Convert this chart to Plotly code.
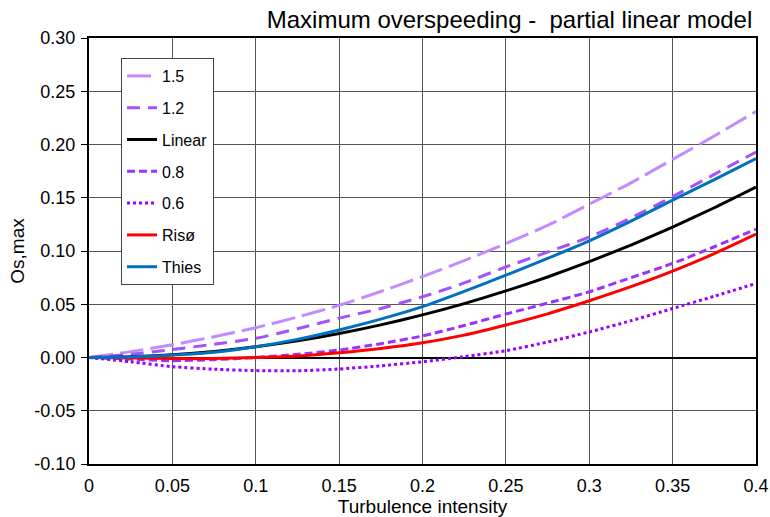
import plotly.graph_objects as go

ti = [0, 0.025, 0.05, 0.075, 0.1, 0.125, 0.15, 0.175, 0.2, 0.225, 0.25, 0.275, 0.3, 0.325, 0.35, 0.375, 0.4]

os_15 = [0, 0.0055, 0.012, 0.0195, 0.028, 0.038, 0.049, 0.062, 0.076, 0.091, 0.107, 0.124, 0.144, 0.164, 0.186, 0.208, 0.231]
os_12 = [0, 0.003, 0.0075, 0.0125, 0.018, 0.027, 0.037, 0.046, 0.057, 0.070, 0.085, 0.099, 0.113, 0.131, 0.151, 0.172, 0.193]
os_lin = [0, 0.0006, 0.0025, 0.0056, 0.01, 0.0156, 0.0225, 0.0306, 0.04, 0.0506, 0.0625, 0.0756, 0.09, 0.1056, 0.1225, 0.1406, 0.16]
os_08 = [0, -0.0015, -0.003, -0.002, 0.0, 0.003, 0.007, 0.013, 0.0202, 0.030, 0.0408, 0.051, 0.0617, 0.075, 0.0883, 0.104, 0.1205]
os_06 = [0, -0.004, -0.0086, -0.011, -0.0123, -0.0125, -0.0108, -0.0078, -0.004, 0.0008, 0.0064, 0.0145, 0.024, 0.0345, 0.046, 0.0575, 0.0695]
os_riso = [0, -0.0005, -0.001, -0.001, 0.0, 0.0015, 0.0045, 0.0085, 0.0139, 0.021, 0.0305, 0.041, 0.0533, 0.0665, 0.0811, 0.0975, 0.1158]
os_thies = [0, 0.0005, 0.0023, 0.005, 0.0101, 0.017, 0.0258, 0.036, 0.0477, 0.062, 0.0773, 0.093, 0.1095, 0.128, 0.1477, 0.167, 0.1867]

series = [
    ("1.5", os_15, "#c28bff", "24px,7px", 3),
    ("1.2", os_12, "#a352ff", "13px,8px", 3),
    ("Linear", os_lin, "#000000", "solid", 3),
    ("0.8", os_08, "#9933ff", "8px,4px", 3),
    ("0.6", os_06, "#9900ff", "dot", 3),
    ("Risø", os_riso, "#ff0000", "solid", 3),
    ("Thies", os_thies, "#0070c0", "solid", 3),
]

x_ticks = [0, 0.05, 0.1, 0.15, 0.2, 0.25, 0.3, 0.35, 0.4]
y_ticks = [-0.10, -0.05, 0.0, 0.05, 0.10, 0.15, 0.20, 0.25, 0.30]
y_labels = ["-0.10", "-0.05", "0.00", "0.05", "0.10", "0.15", "0.20", "0.25", "0.30"]

fig = go.Figure()
for i, (name, ys, col, dash, w) in enumerate(series):
    fig.add_trace(go.Scatter(
        x=ti, y=ys, mode="lines", name=name, legendgroup=f"g{i}",
        line=dict(color=col, dash=dash, width=w, shape="spline", smoothing=0.6),
    ))

font = "Liberation Sans, Arial, sans-serif"
fig.update_layout(
    width=770, height=517,
    margin=dict(l=89, r=14, t=38, b=53, autoexpand=False),
    paper_bgcolor="white", plot_bgcolor="white",
    font=dict(family=font, size=18, color="black"),
    title=dict(text="Maximum overspeeding -  partial linear model",
               x=0.977, xanchor="right", y=0.978, yanchor="top",
               font=dict(size=24, family=font)),
    showlegend=True,
    legend=dict(x=0.048, y=0.953, xanchor="left", yanchor="top",
                bgcolor="white", bordercolor="#444", borderwidth=1,
                font=dict(size=16, family=font), tracegroupgap=8,
                traceorder="grouped"),
    xaxis=dict(range=[0, 0.4], tickvals=x_ticks, ticktext=[f"{v:g}" for v in x_ticks],
               showgrid=True, gridcolor="#555", gridwidth=1, automargin=False,
               zeroline=False, showline=True, linecolor="black", linewidth=2, mirror=True,
               ticks="", tickfont=dict(size=18), ticklabelstandoff=4,
               title=dict(text="Turbulence intensity", standoff=5, font=dict(size=19))),
    yaxis=dict(range=[-0.10, 0.30], tickvals=y_ticks, ticktext=y_labels,
               showgrid=True, gridcolor="#555", gridwidth=1, automargin=False,
               zeroline=True, zerolinecolor="black", zerolinewidth=2,
               showline=True, linecolor="black", linewidth=2, mirror=True,
               ticks="outside", ticklen=6, tickcolor="black", tickwidth=1,
               tickfont=dict(size=18), ticklabelstandoff=2,
               title=dict(text="Os,max", standoff=5, font=dict(size=19))),
)

fig.write_html("out.html")
